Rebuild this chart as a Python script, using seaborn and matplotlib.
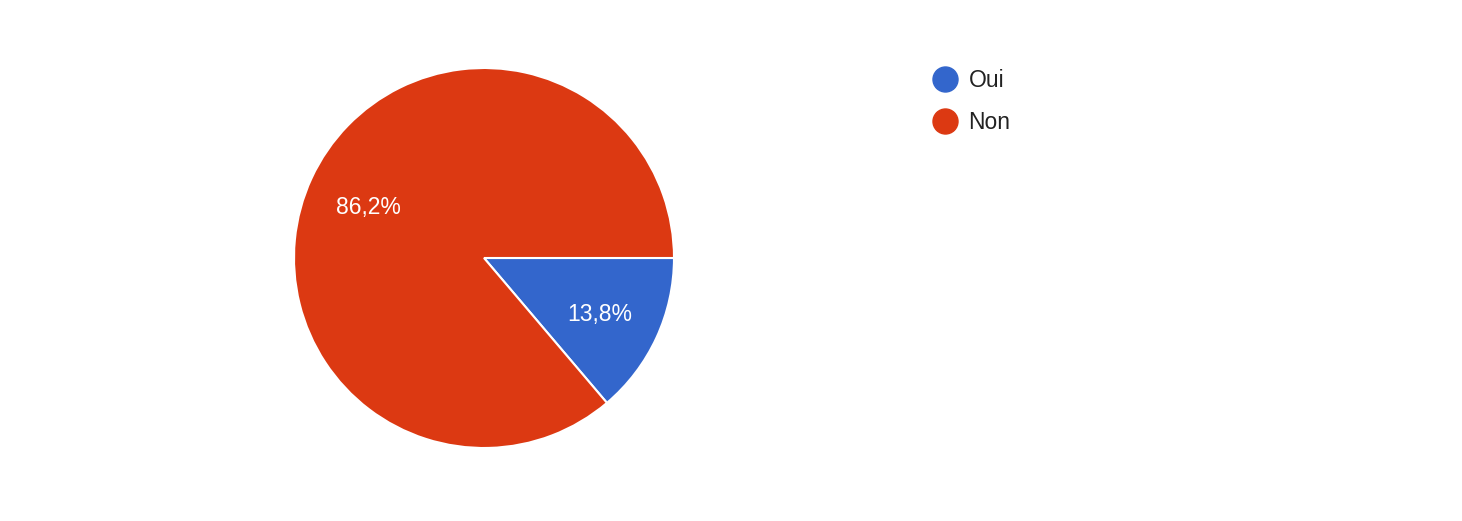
import matplotlib.pyplot as plt
import seaborn as sns
from matplotlib.lines import Line2D

sns.set_theme(style="white")
plt.rcParams["font.family"] = ["Liberation Sans", "DejaVu Sans"]

labels = ["Oui", "Non"]
shares = [13.8, 86.2]
colors = ["#3366CC", "#DC3912"]

W, H = 1462, 521
fig = plt.figure(figsize=(W / 100, H / 100), dpi=100)

# pie centred at (484, 258) px, radius ~190 px
cx, cy, r = 484, 258, 190
ax = fig.add_axes([(cx - r) / W, (H - cy - r) / H, 2 * r / W, 2 * r / H])

wedges, _, autotexts = ax.pie(
    shares, colors=colors, startangle=0, counterclock=False,
    autopct=lambda p: f"{p:.1f}%".replace(".", ","), pctdistance=0.67,
    wedgeprops=dict(edgecolor="white", linewidth=1.5),
    textprops=dict(color="white", fontsize=16.5),
)
# nudge the percent labels down a touch
for t in autotexts:
    x, y = t.get_position()
    t.set_position((x, y - 0.015))
ax.set_xlim(-1, 1)
ax.set_ylim(-1, 1)
ax.set_aspect("equal")

handles = [Line2D([], [], marker="o", ls="", markersize=18, color=c) for c in colors]
fig.legend(handles, labels, loc="upper left", bbox_to_anchor=(901 / W, 1 - 48 / H),
           frameon=False, fontsize=16.5, handletextpad=0.05, labelspacing=0.85,
           labelcolor="#222222")

fig.savefig("out.png", dpi=100)
